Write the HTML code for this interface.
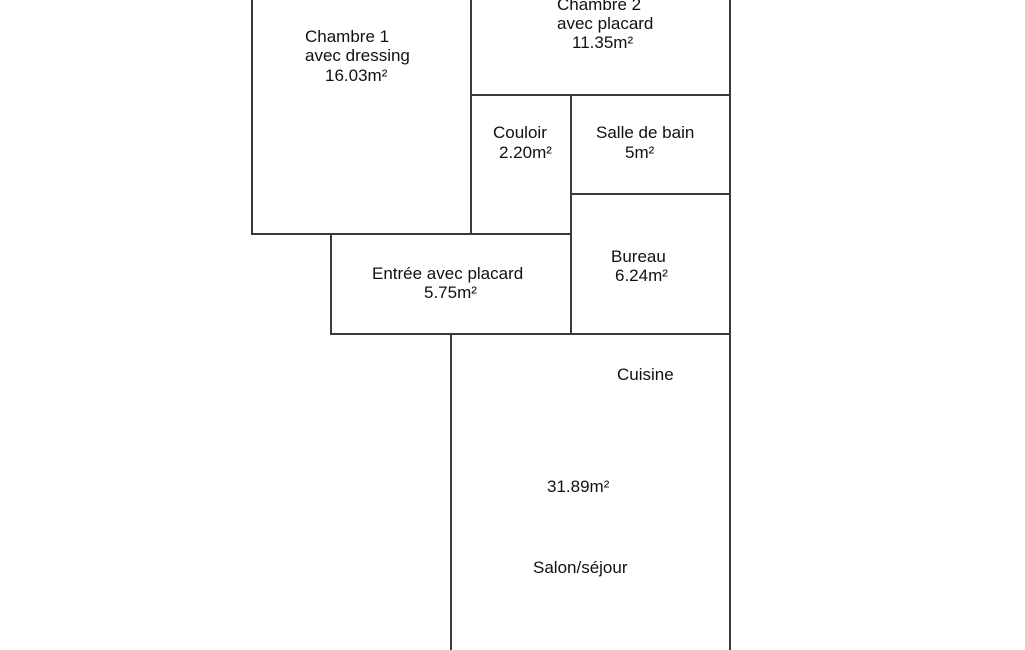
<!DOCTYPE html>
<html>
<head>
<meta charset="utf-8">
<style>
  html, body { margin:0; padding:0; background:#fff; }
  #wrap { position:relative; width:1025px; height:650px; overflow:hidden; background:#fff; }
  svg { position:absolute; left:0; top:0; }
  .t { position:absolute; font-family:"Liberation Sans", Arial, sans-serif; font-size:17px; line-height:20px; color:#111; white-space:nowrap; }
</style>
</head>
<body>
<div id="wrap">
  <svg width="1025" height="650" viewBox="0 0 1025 650">
    <g stroke="#3a3a3a" stroke-width="2" fill="none" shape-rendering="crispEdges">
      <line x1="252" y1="-2" x2="252" y2="235"/>
      <line x1="251" y1="234" x2="572" y2="234"/>
      <line x1="471" y1="-2" x2="471" y2="235"/>
      <line x1="730" y1="-2" x2="730" y2="652"/>
      <line x1="470" y1="95" x2="731" y2="95"/>
      <line x1="571" y1="94" x2="571" y2="335"/>
      <line x1="570" y1="194" x2="731" y2="194"/>
      <line x1="331" y1="233" x2="331" y2="335"/>
      <line x1="330" y1="334" x2="731" y2="334"/>
      <line x1="451" y1="333" x2="451" y2="652"/>
    </g>
  </svg>

  <div class="t" style="left:305px; top:27px;">Chambre 1</div>
  <div class="t" style="left:305px; top:46px;">avec dressing</div>
  <div class="t" style="left:325px; top:66px;">16.03m²</div>

  <div class="t" style="left:557px; top:-5px;">Chambre 2</div>
  <div class="t" style="left:557px; top:14px;">avec placard</div>
  <div class="t" style="left:572px; top:33px;">11.35m²</div>

  <div class="t" style="left:493px; top:123px;">Couloir</div>
  <div class="t" style="left:499px; top:143px;">2.20m²</div>

  <div class="t" style="left:596px; top:123px;">Salle de bain</div>
  <div class="t" style="left:625px; top:143px;">5m²</div>

  <div class="t" style="left:611px; top:247px;">Bureau</div>
  <div class="t" style="left:615px; top:266px;">6.24m²</div>

  <div class="t" style="left:372px; top:264px;">Entrée avec placard</div>
  <div class="t" style="left:424px; top:283px;">5.75m²</div>

  <div class="t" style="left:617px; top:365px;">Cuisine</div>
  <div class="t" style="left:547px; top:477px;">31.89m²</div>
  <div class="t" style="left:533px; top:558px;">Salon/séjour</div>
</div>
</body>
</html>
